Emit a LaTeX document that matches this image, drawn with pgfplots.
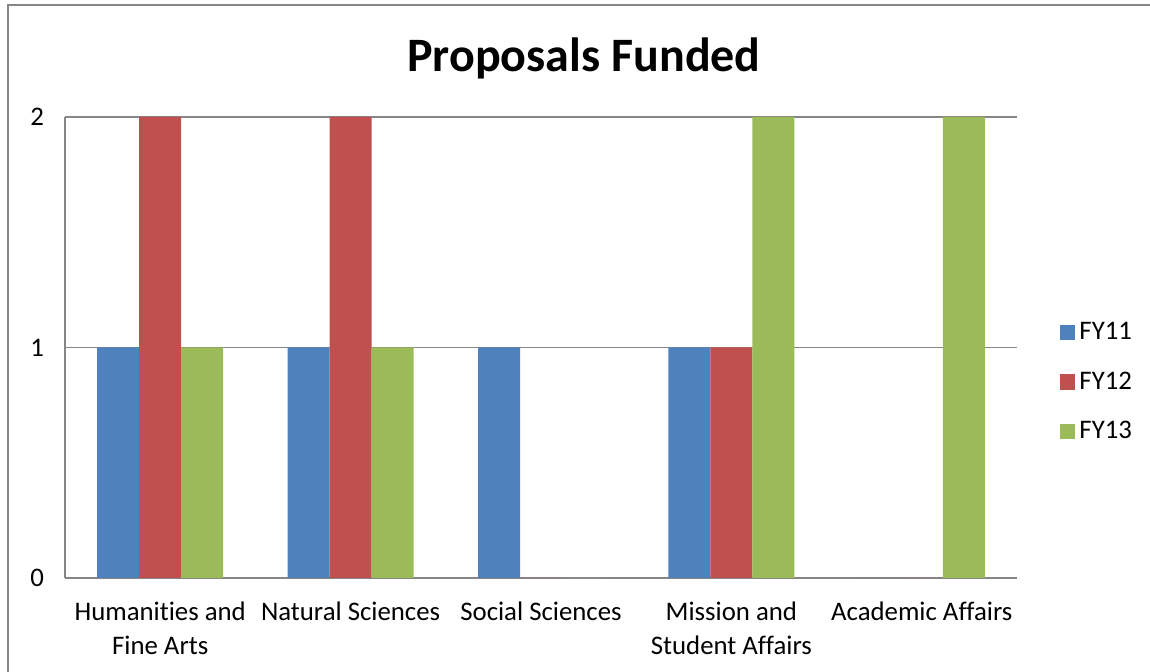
\documentclass[border=0pt]{standalone}
\usepackage{fontspec}
\setmainfont{Carlito}[Ligatures=CommonOff]
\usepackage{pgfplots}
\pgfplotsset{compat=1.18}
\definecolor{cblue}{HTML}{4F81BD}
\definecolor{cred}{HTML}{C0504D}
\definecolor{cgreen}{HTML}{9BBB59}
\definecolor{cgrid}{HTML}{868686}
\begin{document}
\begin{tikzpicture}
\path[use as bounding box, fill=white] (0,0) rectangle (575pt,336pt);
\draw[cgrid, line width=0.9pt] (4pt,-5pt) -- (4pt,333.5pt) -- (585pt,333.5pt);
\node[font=\fontsize{24}{28}\selectfont\bfseries] at (292pt,307pt) {Proposals Funded};
\begin{axis}[
  at={(32.5pt,47pt)}, anchor=south west,
  width=476pt, height=230.5pt, scale only axis,
  ybar=0pt, bar width=21pt,
  xmin=-0.5, xmax=4.5, ymin=0, ymax=2,
  xtick={0,1,2,3,4},
  xticklabels={{Humanities and\\Fine Arts},{Natural Sciences},{Social Sciences},{Mission and\\Student Affairs},{Academic Affairs}},
  xticklabel style={align=center, font=\fontsize{13.4}{17}\selectfont, yshift=-4pt},
  ytick={0,1,2},
  yticklabel style={font=\fontsize{13.4}{15}\selectfont, xshift=-7pt},
  /pgf/number format/assume math mode=true,
  ymajorgrids, grid style={cgrid, line width=0.8pt},
  axis lines*=left,
  axis line style={cgrid, line width=0.8pt, -},
  major tick style={draw=none},
  legend style={at={(1.045,0.425)}, anchor=west, draw=none, font=\fontsize{13.4}{15}\selectfont, row sep=10.5pt, inner xsep=0pt},
  legend cell align=left,
  legend image code/.code={\fill[#1] (0pt,-3.8pt) rectangle (7.6pt,3.8pt);},
]
\addplot[fill=cblue, draw=none] coordinates {(0,1) (1,1) (2,1) (3,1) (4,0)};
\addplot[fill=cred, draw=none] coordinates {(0,2) (1,2) (2,0) (3,1) (4,0)};
\addplot[fill=cgreen, draw=none] coordinates {(0,1) (1,1) (2,0) (3,2) (4,2)};
\legend{FY11,FY12,FY13}
\end{axis}
\end{tikzpicture}
\end{document}
